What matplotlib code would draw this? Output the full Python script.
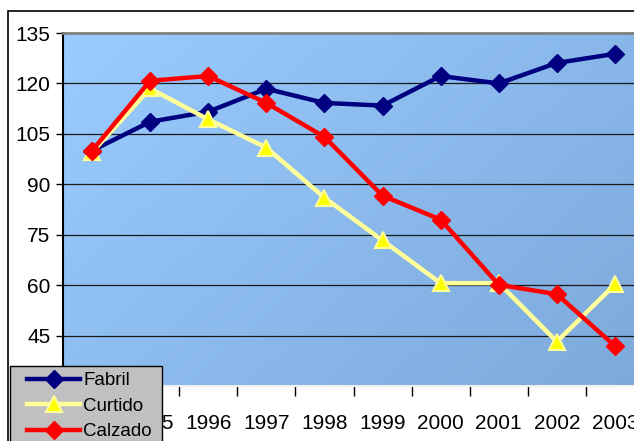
import matplotlib
matplotlib.use("Agg")
import matplotlib.pyplot as plt
import numpy as np
from matplotlib.colors import to_rgb
from matplotlib.patches import Rectangle

plt.rcParams['font.family'] = ['Liberation Sans', 'DejaVu Sans']

years = ['1994', '1995', '1996', '1997', '1998', '1999', '2000', '2001', '2002', '2003']
fabril = [100, 108.6, 111.6, 118.4, 114.2, 113.4, 122.2, 120.0, 126.1, 128.8]
curtido = [99.5, 118.5, 109.3, 100.9, 86.0, 73.3, 60.6, 60.6, 43.2, 60.2]
calzado = [100, 120.8, 122.2, 114.2, 104.1, 86.6, 79.5, 60.1, 57.3, 41.9]

W, H = 634, 441
fig = plt.figure(figsize=(W / 100, H / 100), dpi=100)

# plot area runs a little past the right edge of the figure
ax = fig.add_axes([63 / W, 1 - 386 / H, 581 / W, 353 / H])

# diagonal blue gradient for the plot background
c1 = np.array(to_rgb('#9ACCFF'))
c2 = np.array(to_rgb('#7DA8DA'))
gx, gy = np.meshgrid(np.linspace(0, 1, 200), np.linspace(0, 1, 200))
t = (gx * 0.6 + gy * 0.4)[..., None]
grad = c1 * (1 - t) + c2 * t
ax.imshow(grad, extent=[0, 1, 0, 1], transform=ax.transAxes,
          aspect='auto', zorder=0, interpolation='bilinear')

x = np.arange(len(years))
ax.plot(x, fabril, color='#000080', lw=3.2, marker='D', ms=9.5,
        mfc='#000080', mec='#000080', zorder=3, label='Fabril')
ax.plot(x, curtido, color='#FFFF99', lw=3.2, marker='^', ms=11,
        mfc='#FFFF00', mec='#FFFF99', mew=1.5, zorder=4, label='Curtido')
ax.plot(x, calzado, color='#FF0000', lw=3.2, marker='D', ms=9.5,
        mfc='#FF0000', mec='#FF0000', zorder=5, label='Calzado')

ax.set_xlim(-0.5, len(years) - 0.5)
ax.set_ylim(30, 135)

yt = np.arange(30, 136, 15)
ax.set_yticks(yt)
ax.set_yticklabels([str(v) for v in yt], fontsize=15)
ax.tick_params(axis='y', length=5, width=1, color='black', pad=4)
for v in yt[1:-1]:
    ax.axhline(v, color='#1a1a1a', lw=0.9, zorder=1)

# tick marks sit between categories, labels at the category centres
ax.set_xticks(np.arange(len(years) + 1) - 0.5)
ax.set_xticklabels([])
ax.set_xticks(x, minor=True)
ax.set_xticklabels(years, minor=True, fontsize=15)
ax.tick_params(axis='x', which='major', length=7, width=1, color='black')
ax.tick_params(axis='x', which='minor', length=0, pad=20)

ax.spines['left'].set_color('black')
ax.spines['left'].set_linewidth(1.5)
ax.spines['top'].set_color('#808080')
ax.spines['top'].set_linewidth(2)
ax.spines['bottom'].set_color('#F0F0F0')
ax.spines['bottom'].set_linewidth(1.5)
ax.spines['right'].set_visible(False)

# outer chart frame
fig.patches.append(Rectangle((8 / W, -0.1), 1.1, 1 - 11 / H + 0.1,
                             transform=fig.transFigure, fill=False,
                             edgecolor='black', lw=1.2, zorder=0))

# legend box drawn by hand, entries placed inside it without a frame
fig.patches.append(Rectangle((10 / W, -0.1), 152 / W, 1 - 366 / H + 0.1,
                             transform=fig.transFigure, facecolor='#C0C0C0',
                             edgecolor='black', lw=1, zorder=5))
leg = fig.legend(loc='upper left', bbox_to_anchor=(27 / W, 1 - 372 / H),
                 fontsize=13.5, frameon=False,
                 handlelength=2.83, handletextpad=0.16, labelspacing=0.45,
                 borderpad=0, borderaxespad=0)
leg.set_zorder(10)

fig.savefig('out.png', dpi=100)
